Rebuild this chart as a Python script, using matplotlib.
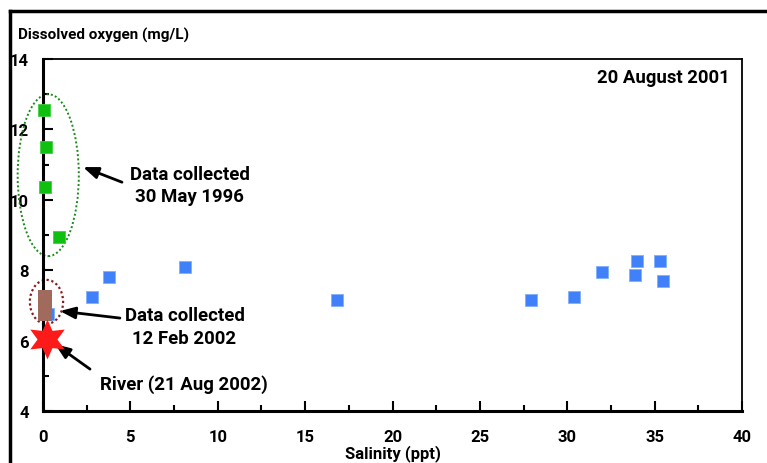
import matplotlib
matplotlib.use("Agg")
import matplotlib.pyplot as plt
from matplotlib.patches import Ellipse
from matplotlib.lines import Line2D
from matplotlib.ticker import MultipleLocator

plt.rcParams['font.family'] = ['Roboto', 'DejaVu Sans']

# 20 August 2001 survey
salinity_2001 = [2.8, 3.8, 8.1, 16.8, 27.9, 30.4, 32.0, 34.0, 33.9, 35.3, 35.5, 0.3]
oxygen_2001 = [7.25, 7.8, 8.1, 7.15, 7.15, 7.25, 7.95, 8.25, 7.85, 8.25, 7.7, 6.75]

# 30 May 1996 survey
salinity_1996 = [0.05, 0.15, 0.1, 0.9]
oxygen_1996 = [12.55, 11.5, 10.35, 8.95]

# 12 Feb 2002 survey
salinity_2002 = [0.1, 0.1, 0.1]
oxygen_2002 = [7.25, 7.0, 6.75]

# River sample, 21 Aug 2002
salinity_river = [0.25]
oxygen_river = [6.05]

fig = plt.figure(figsize=(7.67, 4.64), dpi=100)
ax = fig.add_axes([43/767, 1-412/464, (742-43)/767, (412-60)/464])

ax.scatter(salinity_2001, oxygen_2001, marker='s', s=80, color='#4080f8',
           edgecolors='#80b0ff', linewidths=0.6, zorder=3, clip_on=False)
ax.scatter(salinity_1996, oxygen_1996, marker='s', s=70, color='#10c010',
           edgecolors='#40d040', linewidths=0.6, zorder=3, clip_on=False)
ax.scatter(salinity_2002, oxygen_2002, marker='s', s=90, color='#a06a5c',
           linewidths=0, zorder=4, clip_on=False)
ax.scatter(salinity_river, oxygen_river, marker=(6, 1, 0), s=820, color='#ff1a1a',
           linewidths=0, zorder=5, clip_on=False)

# Survey groupings
ax.add_patch(Ellipse((0.3, 10.7), 3.5, 4.6, fill=False, edgecolor='#1a8a1a',
                     linestyle=(0, (1, 1.2)), linewidth=1.4, clip_on=False, zorder=2))
ax.add_patch(Ellipse((0.2, 7.1), 1.9, 1.25, fill=False, edgecolor='#8a1a1a',
                     linestyle=(0, (1, 1.2)), linewidth=1.6, clip_on=False, zorder=2))

ax.set_xlim(0, 40)
ax.set_ylim(4, 14)
ax.xaxis.set_major_locator(MultipleLocator(5))
ax.xaxis.set_minor_locator(MultipleLocator(2.5))
ax.yaxis.set_major_locator(MultipleLocator(2))
ax.yaxis.set_minor_locator(MultipleLocator(1))
ax.tick_params(which='both', direction='in', top=False, right=False,
               width=1.5, labelsize=12)
ax.tick_params(which='major', length=7)
ax.tick_params(which='minor', length=4)
ax.tick_params(axis='x', pad=13)
ax.tick_params(axis='y', pad=10)
for lbl in ax.get_xticklabels() + ax.get_yticklabels():
    lbl.set_fontweight('bold')
for lbl in ax.get_yticklabels():
    lbl.set_verticalalignment('center_baseline')
for side in ['left', 'bottom']:
    ax.spines[side].set_linewidth(2.2)
for side in ['top', 'right']:
    ax.spines[side].set_linewidth(1.3)

ax.set_xlabel('Salinity (ppt)', fontsize=12, fontweight='bold', labelpad=0)
fig.text(18/767, 1-35/464, 'Dissolved oxygen (mg/L)', fontsize=11,
         fontweight='bold', va='center', ha='left')
ax.text(0.982, 0.95, '20 August 2001', transform=ax.transAxes, ha='right',
        va='center', fontsize=13.3, fontweight='bold')

arrow = dict(arrowstyle='-|>,head_width=0.35,head_length=0.9', color='black',
             lw=2, shrinkA=0, shrinkB=0)
note = dict(ha='center', va='center', fontsize=13.4, fontweight='bold',
            linespacing=1.35)

ax.text(8.4, 10.42, 'Data collected\n30 May 1996', **note)
ax.annotate('', xy=(2.29, 10.93), xytext=(4.52, 10.5), arrowprops=arrow)

ax.text(8.1, 6.41, 'Data collected\n12 Feb 2002', **note)
ax.annotate('', xy=(0.97, 6.84), xytext=(4.4, 6.64), arrowprops=arrow)

ax.text(8.07, 4.77, 'River (21 Aug 2002)', **note)
ax.annotate('', xy=(0.69, 5.9), xytext=(2.69, 5.19), arrowprops=arrow)

# Outer frame
fig.add_artist(Line2D([10/767, 10/767], [0, 1-12/464], color='black', lw=2.5))
fig.add_artist(Line2D([10/767, 1], [1-12/464, 1-12/464], color='black', lw=2.5))

fig.savefig('out.png', dpi=100)
